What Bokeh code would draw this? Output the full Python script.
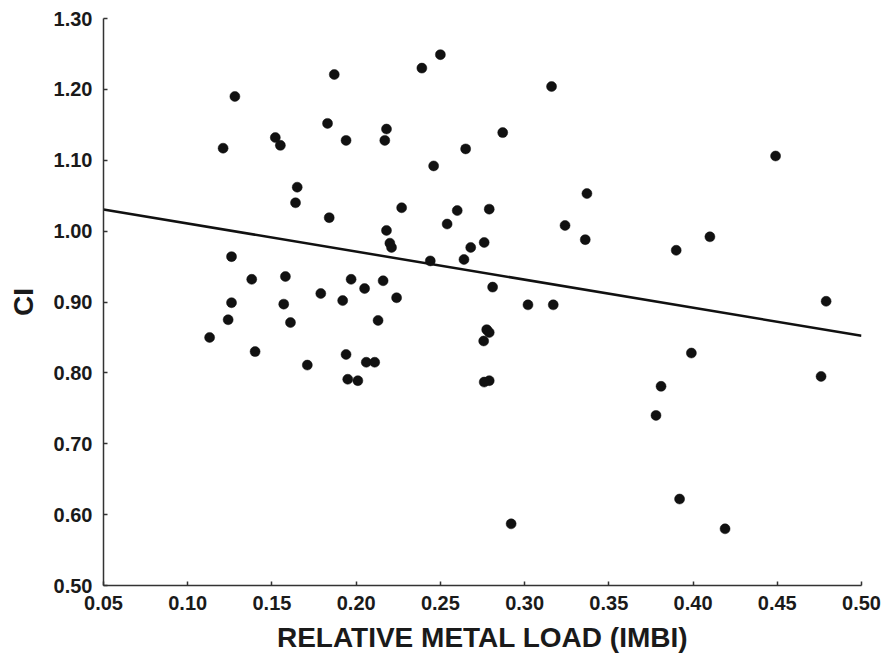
from bokeh.plotting import figure
from bokeh.models import Range1d, FixedTicker
from bokeh.embed import file_html
from bokeh.resources import INLINE

# Data
imbi = [0.121, 0.128, 0.187, 0.183, 0.152, 0.155, 0.194, 0.218, 0.217, 0.165,
        0.164, 0.184, 0.218, 0.220, 0.221, 0.126, 0.138, 0.158, 0.197, 0.205,
        0.216, 0.179, 0.192, 0.126, 0.157, 0.124, 0.113, 0.161, 0.140, 0.171,
        0.194, 0.195, 0.201, 0.206, 0.211, 0.213, 0.250, 0.239, 0.316, 0.287,
        0.265, 0.246, 0.337, 0.227, 0.260, 0.279, 0.254, 0.324, 0.336, 0.390,
        0.276, 0.268, 0.264, 0.244, 0.224, 0.281, 0.302, 0.317, 0.2775, 0.279,
        0.2757, 0.279, 0.276, 0.292, 0.381, 0.378, 0.392, 0.449, 0.410, 0.479,
        0.399, 0.476, 0.419]
ci = [1.117, 1.190, 1.221, 1.152, 1.132, 1.121, 1.128, 1.144, 1.128, 1.062,
      1.040, 1.019, 1.001, 0.983, 0.977, 0.964, 0.932, 0.936, 0.932, 0.919,
      0.930, 0.912, 0.902, 0.899, 0.897, 0.875, 0.850, 0.871, 0.830, 0.811,
      0.826, 0.791, 0.789, 0.815, 0.815, 0.874, 1.249, 1.230, 1.204, 1.139,
      1.116, 1.092, 1.053, 1.033, 1.029, 1.031, 1.010, 1.008, 0.988, 0.973,
      0.984, 0.977, 0.960, 0.958, 0.906, 0.921, 0.896, 0.896, 0.861, 0.857,
      0.845, 0.789, 0.787, 0.587, 0.781, 0.740, 0.622, 1.106, 0.992, 0.901,
      0.828, 0.795, 0.580]

fit_x = [0.05, 0.50]
fit_y = [1.0306, 0.8523]

x_ticks = [0.05, 0.10, 0.15, 0.20, 0.25, 0.30, 0.35, 0.40, 0.45, 0.50]
y_ticks = [0.50, 0.60, 0.70, 0.80, 0.90, 1.00, 1.10, 1.20, 1.30]
x_tick_labels = {t: f"{t:.2f}" for t in x_ticks}
y_tick_labels = {t: f"{t:.2f}" for t in y_ticks}

p = figure(width=885, height=666, output_backend="svg", toolbar_location=None,
           x_range=Range1d(0.05, 0.50), y_range=Range1d(0.50, 1.30),
           min_border_left=103, min_border_right=24, min_border_top=18,
           min_border_bottom=81)
p.outline_line_color = None
p.xgrid.visible = False
p.ygrid.visible = False
p.background_fill_color = "white"
p.border_fill_color = "white"

p.line(fit_x, fit_y, line_color="#111111", line_width=2.5)
p.scatter(imbi, ci, size=10, marker="circle", fill_color="#111111",
          line_color="#111111", line_width=0.5)

font = "Liberation Sans"
for ax, ticks, labels in ((p.xaxis[0], x_ticks, x_tick_labels),
                          (p.yaxis[0], y_ticks, y_tick_labels)):
    ax.ticker = FixedTicker(ticks=ticks)
    ax.major_label_overrides = labels
    ax.minor_tick_line_color = None
    ax.major_tick_in = 4
    ax.major_tick_out = 0
    ax.axis_line_color = "#333333"
    ax.axis_line_width = 1.5
    ax.major_tick_line_color = "#333333"
    ax.major_tick_line_width = 1.5
    ax.major_label_text_font = font
    ax.major_label_text_font_style = "bold"
    ax.major_label_text_font_size = "20px"
    ax.major_label_text_color = "#1a1a1a"
    ax.axis_label_text_font = font
    ax.axis_label_text_font_style = "bold"
    ax.axis_label_text_font_size = "28px"
    ax.axis_label_text_color = "#1a1a1a"

p.xaxis.axis_label = "RELATIVE METAL LOAD (IMBI)"
p.yaxis.axis_label = "CI"
p.xaxis.major_label_standoff = 10
p.yaxis.major_label_standoff = 11
p.xaxis.axis_label_standoff = 9
p.yaxis.axis_label_standoff = 12

open("out.html", "w").write(file_html(p, INLINE))
